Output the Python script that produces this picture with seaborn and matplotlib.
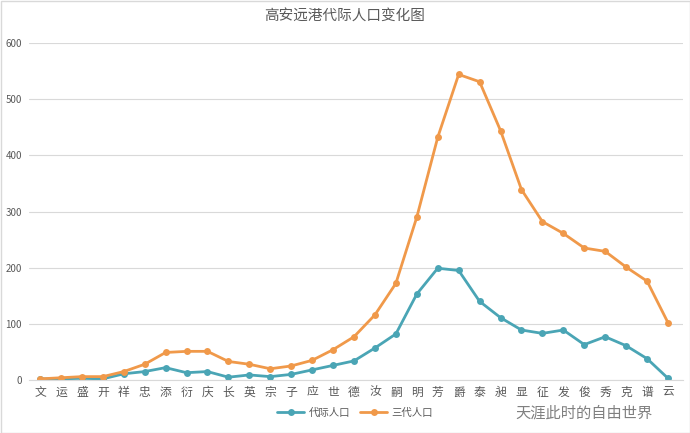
import matplotlib
matplotlib.use("Agg")
import matplotlib.pyplot as plt
import seaborn as sns
import pandas as pd
from matplotlib.patches import Rectangle

categories = ["文", "运", "盛", "开", "祥", "忠", "添", "衍", "庆", "长", "英", "宗", "子", "应", "世",
              "德", "汝", "嗣", "明", "芳", "爵", "泰", "昶", "显", "征", "发", "俊", "秀", "克", "谱", "云"]
generation_pop = [2, 2, 3, 2, 11, 15, 22, 13, 15, 5, 9, 6, 10, 18, 26,
                  34, 57, 82, 153, 199, 195, 140, 111, 89, 83, 89, 63, 77, 61, 38, 3]
three_gen_pop = [2, 4, 6, 6, 15, 28, 49, 51, 51, 33, 28, 20, 25, 35, 54,
                 77, 116, 172, 290, 432, 544, 531, 444, 339, 282, 261, 235, 229, 201, 176, 102]
series_names = ["代际人口", "三代人口"]
y_ticks = [0, 100, 200, 300, 400, 500, 600]
title = "高安远港代际人口变化图"

sns.set_theme(style="white")
plt.rcParams['font.family'] = ['Noto Sans CJK SC', 'DejaVu Sans']

n = len(categories)
df = pd.DataFrame({
    "idx": list(range(n)) * 2,
    "value": generation_pop + three_gen_pop,
    "series": [series_names[0]] * n + [series_names[1]] * n,
})

fig = plt.figure(figsize=(6.9, 4.33), dpi=100)
fig.patch.set_facecolor("white")
ax_left, ax_right = 29, 683
ax = fig.add_axes([ax_left/690, (433-380)/433, (ax_right-ax_left)/690, (380-43)/433])

palette = {series_names[0]: "#4AA5B5", series_names[1]: "#F0994A"}
sns.lineplot(data=df, x="idx", y="value", hue="series", palette=palette, marker="o",
             markersize=5, markeredgewidth=0, linewidth=2.0, ax=ax, legend=True)

step = (668 - 40) / (n - 1)
ax.set_xlim(-(40 - ax_left) / step, (n - 1) + (ax_right - 668) / step)
ax.set_ylim(0, 600)
ax.set_yticks(y_ticks)
ax.set_yticklabels([str(v) for v in y_ticks], fontsize=7, color="#595959")
ax.set_xticks(range(n))
ax.set_xticklabels(categories, fontsize=8.5, color="#595959")
ax.tick_params(axis="both", length=0, pad=4)
ax.tick_params(axis="y", pad=5)
ax.set_xlabel("")
ax.set_ylabel("")
ax.grid(axis="y", color="#D9D9D9", linewidth=0.8)
ax.set_axisbelow(True)
for s in ["top", "right", "left"]:
    ax.spines[s].set_visible(False)
ax.spines["bottom"].set_color("#D9D9D9")
ax.spines["bottom"].set_linewidth(0.8)

fig.text(345/690, 1 - 17/433, title, ha="center", va="center", fontsize=10.5, color="#595959")

handles, labels = ax.get_legend_handles_labels()
ax.legend(handles, labels, loc="center", bbox_to_anchor=(355/690, 1 - 413/433),
          bbox_transform=fig.transFigure, ncol=2, frameon=False, fontsize=7.5,
          handlelength=2.6, columnspacing=1.0, handletextpad=0.4, labelcolor="#595959")

fig.text(515/690, 1 - 413/433, "天涯此时的自由世界", ha="left", va="center",
         fontsize=11, color="#555555", alpha=0.75)

fig.add_artist(Rectangle((0.5/690, 0.5/433), 1 - 1/690, 1 - 1/433, transform=fig.transFigure,
                         fill=False, edgecolor="#D9D9D9", linewidth=1))

fig.savefig("out.png", dpi=100)
